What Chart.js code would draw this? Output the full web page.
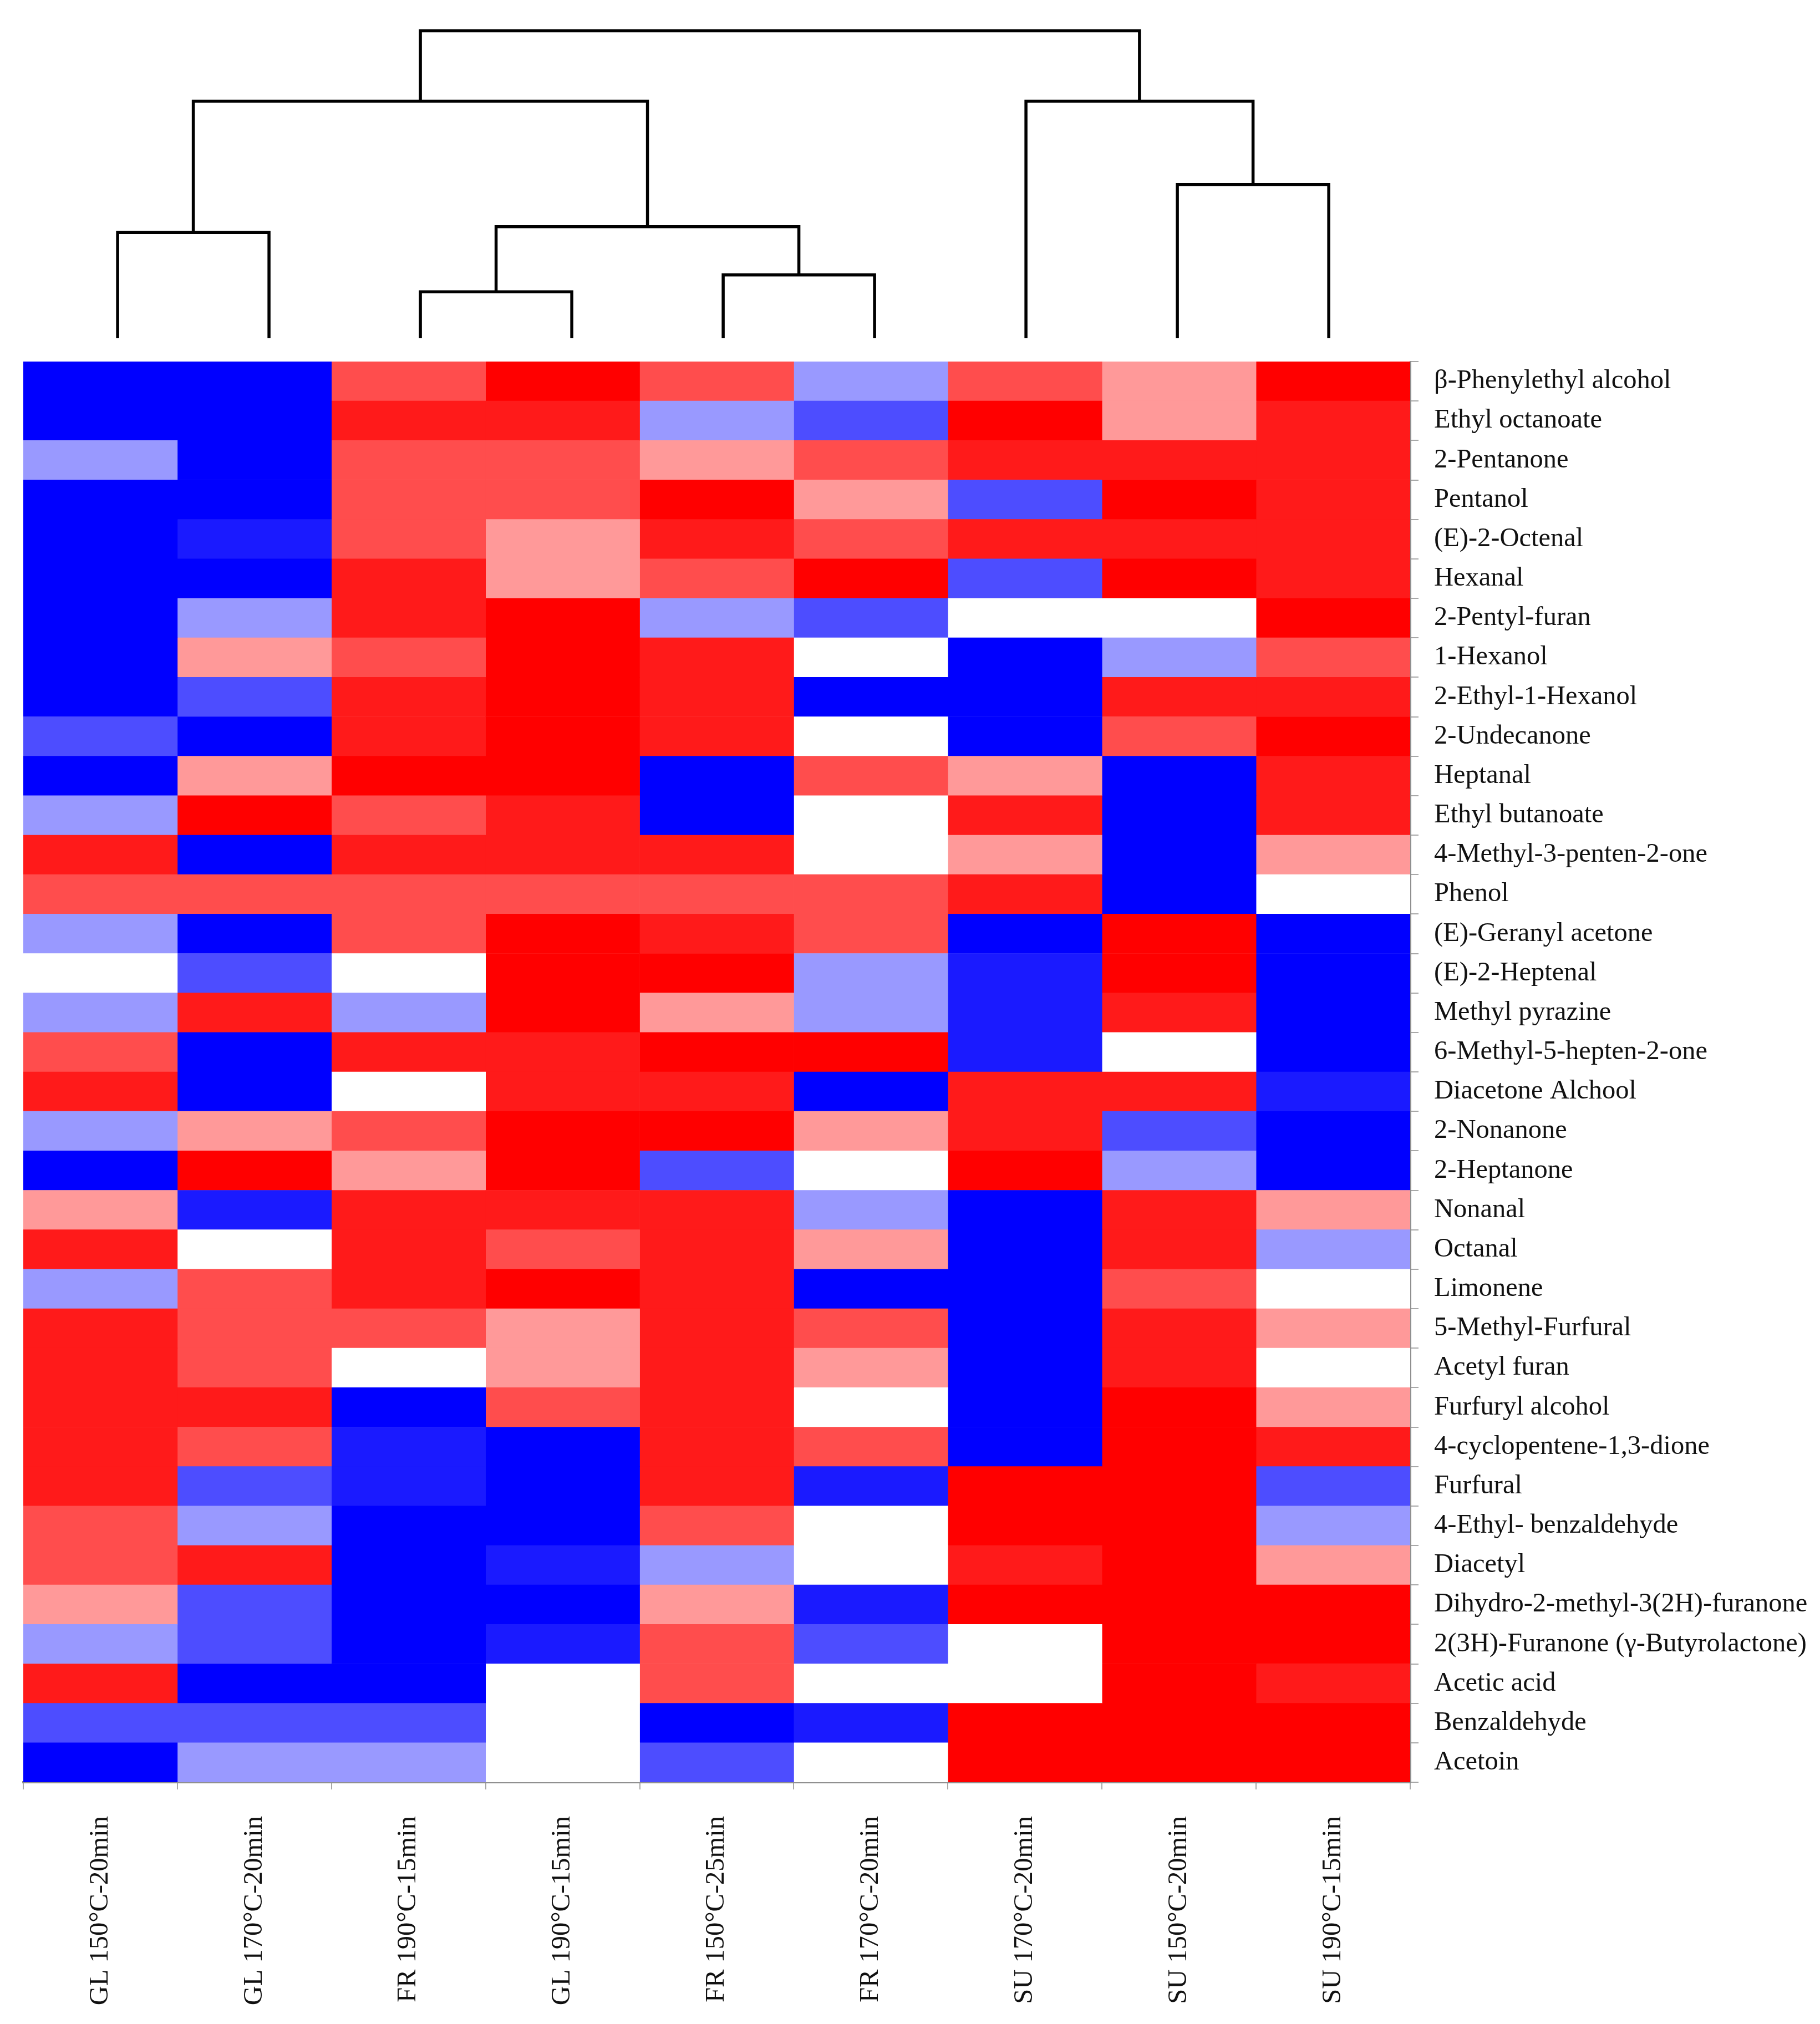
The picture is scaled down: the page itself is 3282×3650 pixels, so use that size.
<!DOCTYPE html>
<html><head><meta charset="utf-8">
<script src="https://cdn.jsdelivr.net/npm/chart.js@4.4.1/dist/chart.umd.min.js"></script>
<style>
html,body{margin:0;padding:0;background:#fff;}
#wrap{position:relative;width:3282px;height:3650px;overflow:hidden;background:#fff;}
canvas{position:absolute;left:0;top:0;}
</style></head><body>
<div id="wrap"><canvas id="heat" width="3282" height="3650"></canvas><canvas id="dendro" width="3282" height="650"></canvas></div>
<script>
// ---- data ----
const samples = ["GL 150°C-20min","GL 170°C-20min","FR 190°C-15min","GL 190°C-15min","FR 150°C-25min","FR 170°C-20min","SU 170°C-20min","SU 150°C-20min","SU 190°C-15min"];
const compounds = ["β-Phenylethyl alcohol","Ethyl octanoate","2-Pentanone","Pentanol","(E)-2-Octenal","Hexanal","2-Pentyl-furan","1-Hexanol","2-Ethyl-1-Hexanol","2-Undecanone","Heptanal","Ethyl butanoate","4-Methyl-3-penten-2-one","Phenol","(E)-Geranyl acetone","(E)-2-Heptenal","Methyl pyrazine","6-Methyl-5-hepten-2-one","Diacetone Alchool","2-Nonanone","2-Heptanone","Nonanal","Octanal","Limonene","5-Methyl-Furfural","Acetyl furan","Furfuryl alcohol","4-cyclopentene-1,3-dione","Furfural","4-Ethyl- benzaldehyde","Diacetyl","Dihydro-2-methyl-3(2H)-furanone","2(3H)-Furanone (γ-Butyrolactone)","Acetic acid","Benzaldehyde","Acetoin"];
// relative level per compound (-4 strong blue ... 0 white ... +4 strong red), one array per sample column
const gl150 = [-4,-4,-1,-4,-4,-4,-4,-4,-4,-2,-4,-1, 3,2,-1, 0,-1, 2, 3,-1,-4, 1, 3,-1, 3, 3, 3, 3, 3, 2, 2, 1,-1, 3,-2,-4];
const gl170 = [-4,-4,-4,-4,-3,-4,-1, 1,-2,-4, 1, 4,-4,2,-4,-2, 3,-4,-4, 1, 4,-3, 0, 2, 2, 2, 3, 2,-2,-1, 3,-2,-2,-4,-2,-1];
const fr190 = [ 2, 3, 2, 2, 2, 3, 3, 2, 3, 3, 4, 2, 3,2, 2, 0,-1, 3, 0, 2, 1, 3, 3, 3, 2, 0,-4,-3,-3,-4,-4,-4,-4,-4,-2,-1];
const gl190 = [ 4, 3, 2, 2, 1, 1, 4, 4, 4, 4, 4, 3, 3,2, 4, 4, 4, 3, 3, 4, 4, 3, 2, 4, 1, 1, 2,-4,-4,-4,-3,-4,-3, 0, 0, 0];
const fr150 = [ 2,-1, 1, 4, 3, 2,-1, 3, 3, 3,-4,-4, 3,2, 3, 4, 1, 4, 3, 4,-2, 3, 3, 3, 3, 3, 3, 3, 3, 2,-1, 1, 2, 2,-4,-2];
const fr170 = [-1,-2, 2, 1, 2, 4,-2, 0,-4, 0, 2, 0, 0,2, 2,-1,-1, 4,-4, 1, 0,-1, 1,-4, 2, 1, 0, 2,-3, 0, 0,-3,-2, 0,-3, 0];
const su170 = [ 2, 4, 3,-2, 3,-2, 0,-4,-4,-4, 1, 3, 1,3,-4,-3,-3,-3, 3, 3, 4,-4,-4,-4,-4,-4,-4,-4, 4, 4, 3, 4, 0, 0, 4, 4];
const su150 = [ 1, 1, 3, 4, 3, 4, 0,-1, 3, 2,-4,-4,-4,-4,4, 4, 3, 0, 3,-2,-1, 3, 3, 2, 3, 3, 4, 4, 4, 4, 4, 4, 4, 4, 4, 4];
const su190 = [ 4, 3, 3, 3, 3, 3, 4, 2, 3, 4, 3, 3, 1,0,-4,-4,-4,-4,-3,-4,-4, 1,-1, 0, 1, 0, 1, 3,-2,-1, 1, 4, 4, 3, 4, 4];
const columns = [gl150, gl170, fr190, gl190, fr150, fr170, su170, su150, su190];
// dendrogram linkage (node ids: leaves 0-8 in column order, merges 9+)
const linkLeft   = [0, 2, 4, 10, 9, 7, 6, 13];
const linkRight  = [1, 3, 5, 11, 12, 8, 14, 15];
const linkHeight = [3.44, 1.51, 2.06, 3.63, 7.71, 5.00, 7.71, 10.0];

// ---- colours ----
const palette = {"-4":"#0000ff","-3":"#1a1aff","-2":"#4d4dff","-1":"#9999ff","0":"#ffffff","1":"#ff9999","2":"#ff4d4d","3":"#ff1a1a","4":"#ff0000"};
const levelColor = v => palette[String(v)];

const FONT = {family: "'Liberation Serif','Times New Roman',serif", size: 48.5};
const TXT = '#111111';
const AXIS = '#8f8f8f';

// ---- heatmap ----
new Chart(document.getElementById('heat'), {
  type: 'bar',
  data: {
    labels: compounds,
    datasets: columns.map((col, i) => ({
      label: samples[i],
      data: col.map(() => 1),
      backgroundColor: col.map(levelColor),
      borderWidth: 0,
      barPercentage: 1,
      categoryPercentage: 1
    }))
  },
  options: {
    indexAxis: 'y',
    responsive: false,
    animation: false,
    devicePixelRatio: 1,
    layout: {padding: {left: 42, top: 652, right: 0, bottom: 0}},
    plugins: {legend: {display: false}, tooltip: {enabled: false}},
    scales: {
      x: {type: 'linear', stacked: true, min: 0, max: 9, display: false},
      y: {
        type: 'category', position: 'right', stacked: true, offset: true,
        grid: {offset: true, drawOnChartArea: false, tickLength: 15, color: '#a8a8a8', lineWidth: 2},
        border: {display: true, color: AXIS, width: 3},
        ticks: {font: FONT, color: TXT, padding: 28, autoSkip: false},
        afterFit: s => { s.width = 739; s.paddingTop = 0; s.paddingBottom = 0; }
      },
      xl: {
        type: 'category', labels: samples, position: 'bottom', offset: true,
        grid: {offset: true, drawOnChartArea: false, tickLength: 13, color: '#a8a8a8', lineWidth: 2},
        border: {display: true, color: AXIS, width: 4},
        ticks: {font: FONT, color: TXT, padding: 48, autoSkip: false, minRotation: 90, maxRotation: 90},
        afterFit: s => { s.height = 436; s.paddingLeft = 0; s.paddingRight = 0; }
      }
    }
  }
});

// ---- dendrogram ----
const nodeX = [0,1,2,3,4,5,6,7,8];
const nodeH = [0,0,0,0,0,0,0,0,0];
const dendroSets = [];
linkLeft.forEach((l, k) => {
  const r = linkRight[k], h = linkHeight[k];
  dendroSets.push({
    data: [{x: nodeX[l], y: nodeH[l]}, {x: nodeX[l], y: h}, {x: nodeX[r], y: h}, {x: nodeX[r], y: nodeH[r]}],
    showLine: true, borderColor: '#000', borderWidth: 5.5, pointRadius: 0, tension: 0, clip: false,
    borderJoinStyle: 'miter', borderCapStyle: 'butt'
  });
  nodeX.push((nodeX[l] + nodeX[r]) / 2);
  nodeH.push(h);
});
new Chart(document.getElementById('dendro'), {
  type: 'scatter',
  data: {datasets: dendroSets},
  options: {
    responsive: false,
    animation: false,
    devicePixelRatio: 1,
    layout: {padding: {left: 42, right: 739, top: 0, bottom: 40}},
    plugins: {legend: {display: false}, tooltip: {enabled: false}},
    scales: {
      x: {type: 'linear', min: -0.623, max: 8.538, display: false},
      y: {type: 'linear', min: 0, max: 11, display: false}
    }
  }
});
</script>
</body></html>
